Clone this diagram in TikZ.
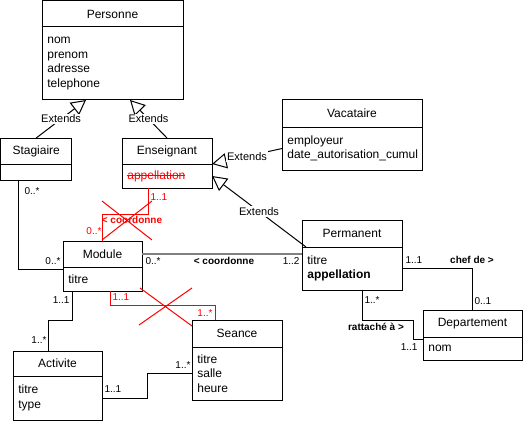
\documentclass[tikz,border=0pt]{standalone}
\usepackage{fontspec}
\setmainfont{Liberation Sans}
\usetikzlibrary{positioning,calc,arrows.meta}

\newsavebox\crossedbox
\newcommand{\crossedattr}[1]{\sbox\crossedbox{#1}%
  \rlap{\usebox\crossedbox}\rule[0.3em]{\wd\crossedbox}{0.6pt}}

\begin{document}
\begin{tikzpicture}[x=0.75pt,y=-0.75pt,line width=0.75pt,
    head/.style={draw,anchor=north west,inner sep=0pt,outer sep=0pt,
      font=\fontsize{9}{10.8}\selectfont},
    attrs/.style={draw,below=0pt of #1,inner xsep=4pt,inner ysep=0pt,
      outer sep=0pt,align=left,font=\fontsize{9}{10.8}\selectfont},
    gen/.style={-{Triangle[open,length=11pt,width=11.5pt]}},
    ext/.style={fill=white,inner sep=1pt,font=\fontsize{8.25}{9}\selectfont},
    mult/.style={inner sep=0pt,font=\fontsize{7.5}{9}\selectfont},
    role/.style={inner sep=0pt,font=\fontsize{7.5}{9}\selectfont\bfseries},
    cut/.style={draw=red},
    coordline/.style={draw=black!50,line width=1pt}]
  \useasboundingbox (0,0) rectangle (523,424);

  % classes
  \node[head,minimum width=105.75pt,minimum height=19.5pt] (personne) at (42,1) {Personne};
  \node[attrs=personne,text width=97.75pt,minimum height=54.75pt] (personne-attr)
    {nom\\prenom\\adresse\\telephone};
  \node[head,minimum width=53.6pt,minimum height=19.5pt] (stagiaire) at (0.5,138) {Stagiaire};
  \node[attrs=stagiaire,text width=45.6pt,minimum height=12pt] (stagiaire-attr) {};
  \node[head,minimum width=67.5pt,minimum height=19.5pt] (enseignant) at (122,138) {Enseignant};
  \node[attrs=enseignant,text width=59.5pt,minimum height=18pt] (enseignant-attr)
    {\color{red}\crossedattr{appellation}};
  \node[head,minimum width=105pt,minimum height=20.25pt] (vacataire) at (282,100) {Vacataire};
  \node[attrs=vacataire,text width=97pt,minimum height=32.25pt] (vacataire-attr)
    {employeur\\date\_autorisation\_cumul};
  \node[head,minimum width=75pt,minimum height=20.25pt] (permanent) at (302,220) {Permanent};
  \node[attrs=permanent,text width=67pt,minimum height=32.25pt] (permanent-attr)
    {titre\\\textbf{appellation}};
  \node[head,minimum width=74.25pt,minimum height=20.25pt] (departement) at (423,310) {Departement};
  \node[attrs=departement,text width=66.25pt,minimum height=17.25pt] (departement-attr) {nom};
  \node[head,minimum width=59.25pt,minimum height=19.5pt] (module) at (63,241) {Module};
  \node[attrs=module,text width=51.25pt,minimum height=18pt] (module-attr) {titre};
  \node[head,minimum width=67.5pt,minimum height=20.25pt] (seance) at (192,320) {Seance};
  \node[attrs=seance,text width=59.5pt,minimum height=39.75pt] (seance-attr)
    {titre\\salle\\heure};
  \node[head,minimum width=66.75pt,minimum height=18.75pt] (activite) at (13,351) {Activite};
  \node[attrs=activite,text width=58.75pt,minimum height=33pt] (activite-attr)
    {titre\\type};

  % extends
  \draw[gen] (stagiaire.north) -- ($(personne-attr.south west)+(44,0)$)
    node[ext,pos=.5] {Extends};
  \draw[gen] (enseignant.north) -- ($(personne-attr.south west)+(88,0)$)
    node[ext,pos=.5] {Extends};
  \draw[gen] (vacataire-attr.west) -- (enseignant.south east)
    node[ext,pos=.5] {Extends};
  \draw[gen] ($(permanent.south west)+(4,0)$) -- (enseignant-attr.east)
    node[ext,pos=.5] {Extends};

  % associations
  \draw ($(stagiaire-attr.south west)+(18,0)$) |- ($(module.south west)+(0,2)$);
  \node[mult,anchor=west] at (24,191) {0..*};
  \node[mult,anchor=east] at (61,261) {0..*};

  \draw[coordline] (module.east) -- (permanent-attr.west |- module.east);
  \node[mult,anchor=west] at (145,261) {0..*};
  \node[role] at (224,261) {< coordonne};
  \node[mult,anchor=east] at (300,261) {1..2};

  \draw[cut] ($(enseignant-attr.south west)+(26,0)$) -- ++(0,26) -| (module.north);
  \draw[cut] (102,201) -- (152,240) (152,201) -- (102,240);
  \node[mult,red,anchor=west] at (150,197) {1..1};
  \node[role,red] at (132,220) {< coordonne};
  \node[mult,red,anchor=east] at (102,231) {0..*};

  \draw[cut] ($(module-attr.south west)+(47,0)$) -- ++(0,14) -| ($(seance.north west)+(23,0)$);
  \draw[cut] (140,288) -- (192,326) (192,288) -- (139,325);
  \node[mult,red,anchor=west] at (112,297) {1..1};
  \node[mult,red,anchor=east] at (213,313) {1..*};

  \draw ($(module-attr.south west)+(9,0)$) -- ++(0,29) -| ($(activite.north west)+(35,0)$);
  \node[mult,anchor=east] at (70,300) {1..1};
  \node[mult,anchor=east] at (47,340) {1..*};

  \draw (activite-attr.east) -- ++(45,0) |- (seance-attr.west);
  \node[mult,anchor=west] at (104,389) {1..1};
  \node[mult,anchor=east] at (191,365) {1..*};

  \draw (permanent-attr.east) -| (departement.north);
  \node[mult,anchor=west] at (405,260) {1..1};
  \node[role] at (472,260) {chef de >};
  \node[mult,anchor=west] at (474,301) {0..1};

  \draw ($(permanent-attr.south west)+(60,0)$) -- ++(0,30) -- ++(51,0)
    |- ($(departement-attr.north west)+(0,2)$);
  \node[mult,anchor=west] at (364,300) {1..*};
  \node[role] at (376,327) {rattaché à >};
  \node[mult,anchor=east] at (418,347) {1..1};
\end{tikzpicture}
\end{document}
